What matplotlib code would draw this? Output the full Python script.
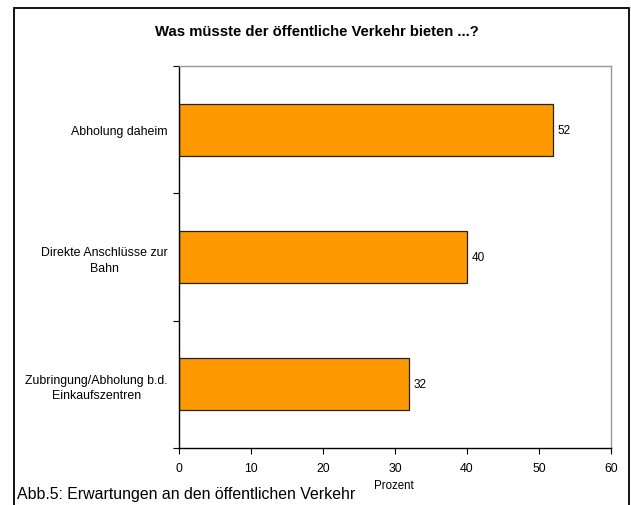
import matplotlib
matplotlib.use("Agg")
import matplotlib.pyplot as plt
from matplotlib.patches import Rectangle

categories = ["Abholung daheim", "Direkte Anschlüsse zur\nBahn", "Zubringung/Abholung b.d.\nEinkaufszentren"]
values = [52, 40, 32]
title = "Was müsste der öffentliche Verkehr bieten ...?"
caption = "Abb.5: Erwartungen an den öffentlichen Verkehr"
xlabel = "Prozent"
xticks = [0, 10, 20, 30, 40, 50, 60]

plt.rcParams['font.family'] = ['Liberation Sans', 'DejaVu Sans']

W, H = 631, 506
fig = plt.figure(figsize=(W / 100, H / 100), dpi=100)

def fx(px):
    return px / W

def fy(py):
    return 1 - py / H

# outer frame
fig.patches.append(Rectangle((fx(13.5), fy(520)), fx(628.5) - fx(13.5), fy(9) - fy(520),
                             transform=fig.transFigure, fill=False, edgecolor='black', linewidth=1.3))

left, right, top, bottom = 179, 611, 67, 449
ax = fig.add_axes([fx(left), fy(bottom), fx(right) - fx(left), fy(top) - fy(bottom)])

ypos = list(range(len(categories)))
ax.barh(ypos, values, height=0.41, color='#FF9900', edgecolor='#222222', linewidth=0.9)
for y, v in zip(ypos, values):
    ax.text(v + 0.6, y, str(v), va='center', ha='left', fontsize=8.5)

ax.set_xlim(0, 60)
ax.set_ylim(len(categories) - 0.5, -0.5)
ax.set_xticks(xticks)
ax.set_xticklabels([str(t) for t in xticks], fontsize=8.8)
ax.set_yticks(ypos)
ax.set_yticklabels(categories, fontsize=8.9, multialignment='center', linespacing=1.4)
ax.set_yticks([i - 0.5 for i in range(len(categories) + 1)], minor=True)
ax.tick_params(axis='y', which='major', length=0, pad=8)
ax.tick_params(axis='y', which='minor', length=4, width=0.8, direction='out')
ax.tick_params(axis='x', which='major', length=4, width=0.8, direction='out', pad=6)

for s in ['top', 'right']:
    ax.spines[s].set_color('#999999')
    ax.spines[s].set_linewidth(1.0)
for s in ['left', 'bottom']:
    ax.spines[s].set_color('black')
    ax.spines[s].set_linewidth(1.0)

fig.text(fx(316.5), fy(32), title, ha='center', va='center', fontsize=10.7, fontweight='bold')
fig.text(fx(17), fy(495), caption, ha='left', va='center', fontsize=11.4)
fig.text(fx(393.5), fy(486), xlabel, ha='center', va='center', fontsize=8.3)

fig.savefig("out.png", dpi=100)
